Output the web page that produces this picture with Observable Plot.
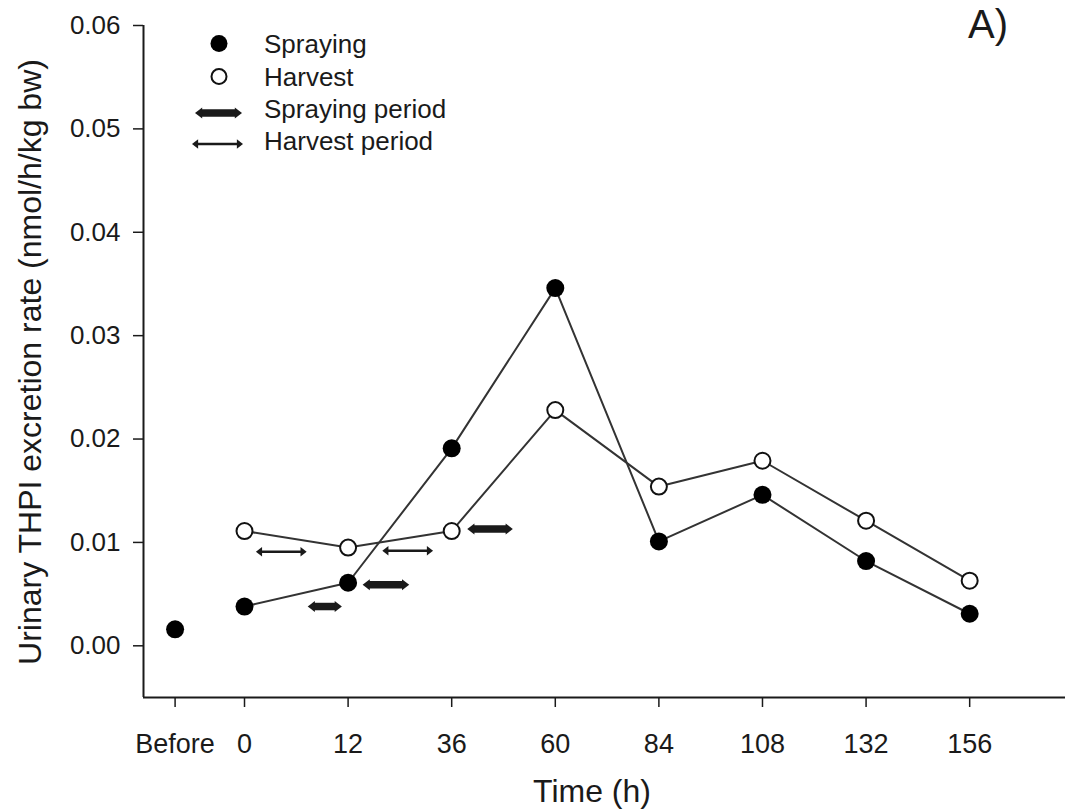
<!DOCTYPE html>
<html>
<head>
<meta charset="utf-8">
<script src="https://cdn.jsdelivr.net/npm/d3@7"></script>
<script src="https://cdn.jsdelivr.net/npm/@observablehq/plot@0.6"></script>
<style>
  body { margin: 0; background: #fff; }
  svg { display: block; }
</style>
</head>
<body>
<div id="chart"></div>
<script>
// Sampling times and the axis slot each one occupies
const timeLabels = ["Before", "0", "12", "36", "60", "84", "108", "132", "156"];
const timeSlots = [-0.67, 0, 1, 2, 3, 4, 5, 6, 7];

// Urinary THPI excretion rate (nmol/h/kg bw)
const sprayingRate = [0.0016, 0.0038, 0.0061, 0.0191, 0.0346, 0.0101, 0.0146, 0.0082, 0.0031];
const harvestRate = [null, 0.0111, 0.0095, 0.0111, 0.0228, 0.0154, 0.0179, 0.0121, 0.0063];

const yTicks = [0, 0.01, 0.02, 0.03, 0.04, 0.05, 0.06];

// Work periods, expressed in axis slots, drawn at the level given
const sprayingPeriodStart = [0.61, 1.14, 2.15];
const sprayingPeriodEnd = [0.94, 1.59, 2.59];
const sprayingPeriodLevel = [0.0038, 0.0059, 0.0113];
const harvestPeriodStart = [0.11, 1.33];
const harvestPeriodEnd = [0.60, 1.82];
const harvestPeriodLevel = [0.0091, 0.0092];

const xDomain = [-0.975, 7.925];
const yDomain = [-0.005, 0.06];

const seriesNames = ["Spraying", "Harvest", "Spraying period", "Harvest period"];
const ink = "#1a1a1a";
const font = "'Liberation Sans', Arial, Helvetica, sans-serif";

const rows = timeLabels.map((t, i) => ({
  time: t, slot: timeSlots[i], spraying: sprayingRate[i], harvest: harvestRate[i]
}));
const sampled = rows.filter(d => d.time !== "Before");

const sprayPeriods = sprayingPeriodStart.map((s, i) => ({x1: s, x2: sprayingPeriodEnd[i], y: sprayingPeriodLevel[i]}));
const harvestPeriods = harvestPeriodStart.map((s, i) => ({x1: s, x2: harvestPeriodEnd[i], y: harvestPeriodLevel[i]}));

// Arrowheads whose tip sits on the anchor point
const headRight = {draw(ctx, size) { const r = Math.sqrt(size / Math.PI); ctx.moveTo(0, 0); ctx.lineTo(-1.5 * r, -1.15 * r); ctx.lineTo(-1.5 * r, 1.15 * r); ctx.closePath(); }};
const headLeft = {draw(ctx, size) { const r = Math.sqrt(size / Math.PI); ctx.moveTo(0, 0); ctx.lineTo(1.5 * r, -1.15 * r); ctx.lineTo(1.5 * r, 1.15 * r); ctx.closePath(); }};

function periodArrows(data, shaft, headR) {
  const inset = 1.5 * headR - 1;
  return [
    Plot.ruleY(data, {x1: "x1", x2: "x2", y: "y", stroke: ink, strokeWidth: shaft, insetLeft: inset, insetRight: inset}),
    Plot.dot(data, {x: "x2", y: "y", r: headR, symbol: headRight, fill: ink, stroke: "none"}),
    Plot.dot(data, {x: "x1", y: "y", r: headR, symbol: headLeft, fill: ink, stroke: "none"})
  ];
}

const sprayShaft = 7.5, sprayHead = 4.8;
const harvestShaft = 2.6, harvestHead = 4.1;

const chart = Plot.plot({
  width: 1065,
  height: 811,
  marginLeft: 143,
  marginRight: 0,
  marginTop: 25,
  marginBottom: 114,
  style: {fontFamily: font, color: ink, background: "#fff", overflow: "visible"},
  x: {domain: xDomain},
  y: {domain: yDomain},
  marks: [
    Plot.axisY({ticks: yTicks, tickSize: 10, tickPadding: 13, tickFormat: d => d.toFixed(2), fontSize: 26, label: null, strokeWidth: 1.5}),
    Plot.axisX({ticks: timeSlots, tickSize: 10, tickPadding: 26, tickFormat: d => timeLabels[timeSlots.indexOf(d)], fontSize: 27, label: null, strokeWidth: 1.5}),
    Plot.ruleX([xDomain[0]], {stroke: ink, strokeWidth: 2}),
    Plot.ruleY([yDomain[0]], {stroke: ink, strokeWidth: 2}),
    Plot.line(sampled, {x: "slot", y: "spraying", stroke: "#333", strokeWidth: 2}),
    Plot.line(sampled, {x: "slot", y: "harvest", stroke: "#333", strokeWidth: 2}),
    ...periodArrows(sprayPeriods, sprayShaft, sprayHead),
    ...periodArrows(harvestPeriods, harvestShaft, harvestHead),
    Plot.dot(rows, {x: "slot", y: "spraying", r: 9, fill: "#000", stroke: "none"}),
    Plot.dot(sampled, {x: "slot", y: "harvest", r: 8, fill: "#fff", stroke: "#111", strokeWidth: 2})
  ]
});

const svg = d3.select(chart);

// Axis titles
svg.append("text")
  .attr("transform", "translate(41,362) rotate(-90)")
  .attr("text-anchor", "middle")
  .attr("font-family", font).attr("font-size", 32).attr("fill", ink)
  .text("Urinary THPI excretion rate (nmol/h/kg bw)");
svg.append("text")
  .attr("x", 592).attr("y", 802)
  .attr("text-anchor", "middle")
  .attr("font-family", font).attr("font-size", 32).attr("fill", ink)
  .text("Time (h)");

// Panel tag
svg.append("text")
  .attr("x", 968).attr("y", 38)
  .attr("text-anchor", "start")
  .attr("font-family", font).attr("font-size", 40).attr("fill", ink)
  .text("A)");

// Legend
const legend = svg.append("g")
  .attr("font-family", font).attr("font-size", 26).attr("fill", ink)
  .attr("text-anchor", "start");
legend.append("circle").attr("cx", 219).attr("cy", 43.5).attr("r", 8.5).attr("fill", "#000");
legend.append("circle").attr("cx", 219).attr("cy", 76.5).attr("r", 7.5).attr("fill", "#fff").attr("stroke", "#111").attr("stroke-width", 2);

function legendArrow(xa, xb, y, shaft, headR) {
  const L = 1.5 * headR, H = 1.15 * headR;
  legend.append("line").attr("x1", xa + L - 1).attr("x2", xb - L + 1).attr("y1", y).attr("y2", y)
    .attr("stroke", ink).attr("stroke-width", shaft);
  legend.append("path").attr("d", `M${xb},${y}L${xb - L},${y - H}L${xb - L},${y + H}Z`).attr("fill", ink);
  legend.append("path").attr("d", `M${xa},${y}L${xa + L},${y - H}L${xa + L},${y + H}Z`).attr("fill", ink);
}
legendArrow(195, 242, 113, sprayShaft, sprayHead);
legendArrow(192, 243, 144, harvestShaft, harvestHead);

const legendBaselines = [53, 86, 118, 150];
seriesNames.forEach((name, i) => {
  legend.append("text").attr("x", 264).attr("y", legendBaselines[i]).text(name);
});

document.getElementById("chart").appendChild(chart);
</script>
</body>
</html>
